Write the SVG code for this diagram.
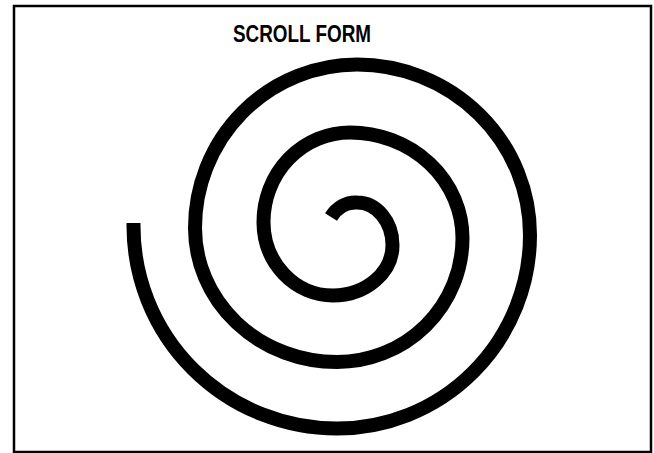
<svg xmlns="http://www.w3.org/2000/svg" width="654" height="453" viewBox="0 0 654 453">
  <style>
    .frame { fill: none; stroke: #000; stroke-width: 2.5; }
    .title { font-family: "Liberation Sans", Arial, sans-serif; font-weight: bold; font-size: 23px; fill: #000; }
    .spiral { fill: none; stroke: #000; stroke-width: 14; stroke-linecap: butt; stroke-linejoin: round; }
  </style>
  <rect id="frame" class="frame" x="14" y="6" width="637" height="446"/>
  <g id="title">
    <text class="title" x="302" y="42" text-anchor="middle" textLength="138" lengthAdjust="spacingAndGlyphs">SCROLL FORM</text>
  </g>
  <g id="spiral">
    <path class="spiral" d="M133.5,223 L133.5,226
      A203.5,202.5 0 0 0 337,428.5
      A193,193.5 0 0 0 530,235
      A173,170.5 0 0 0 357,64.5
      A162,163.5 0 0 0 195,228
      A142,134 0 0 0 337,362
      A125.5,124 0 0 0 462.5,238
      A112.5,105.5 0 0 0 350,132.5
      A86.5,89.5 0 0 0 263.5,222
      A69.5,73.5 0 0 0 333,295.5
      A59.5,50.5 0 0 0 392.5,245
      A35.5,42.5 0 0 0 357,202.5
      A30,35 0 0 0 331,217"/>
  </g>
</svg>
